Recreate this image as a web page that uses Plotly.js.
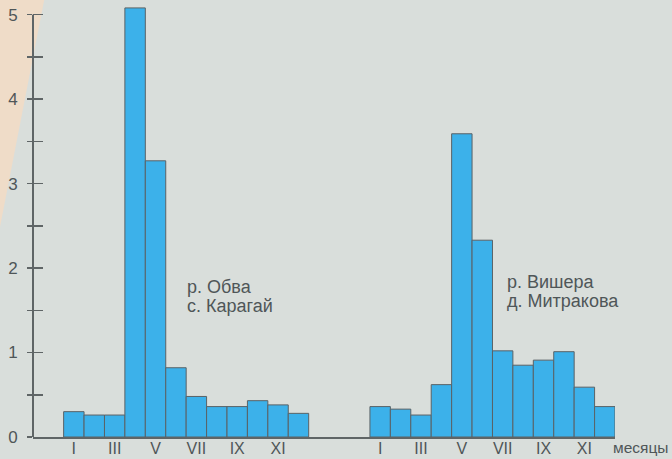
<!DOCTYPE html>
<html>
<head>
<meta charset="utf-8">
<script src="https://cdn.plot.ly/plotly-3.0.1.min.js"></script>
<style>
html,body{margin:0;padding:0;background:#d9dedb;}
#chart{width:672px;height:459px;}
</style>
</head>
<body>
<div id="chart"></div>
<script>
// Data
var months = ['I','II','III','IV','V','VI','VII','VIII','IX','X','XI','XII'];
var obva = [0.30, 0.26, 0.26, 5.08, 3.27, 0.82, 0.48, 0.36, 0.36, 0.43, 0.38, 0.28];
var vishera = [0.36, 0.33, 0.26, 0.62, 3.59, 2.33, 1.02, 0.85, 0.91, 1.01, 0.59, 0.36];
var riverLabels = [['р. Обва', 'с. Карагай'], ['р. Вишера', 'д. Митракова']];
var yTicks = [0, 1, 2, 3, 4, 5];

var offset2 = 15;
var x1 = months.map(function(m, i){ return i; });
var x2 = months.map(function(m, i){ return i + offset2; });

var barStyle = {color: '#3cb1ea', line: {color: '#5a6266', width: 1}};
var traces = [
  {type: 'bar', x: x1, y: obva, width: 1, marker: barStyle, hoverinfo: 'y', name: riverLabels[0].join(' ')},
  {type: 'bar', x: x2, y: vishera, width: 1, marker: barStyle, hoverinfo: 'y', name: riverLabels[1].join(' ')}
];

var tickvals = [], ticktext = [];
[0, offset2].forEach(function(off){
  months.forEach(function(m, i){
    if (i % 2 === 0) { tickvals.push(i + off); ticktext.push(m); }
  });
});

var txtColor = '#4f5658';
var txtFont = {family: 'Liberation Sans, Arial, sans-serif', size: 18, color: txtColor};
var annotations = [
  {x: 5.44, y: 1.78, xref: 'x', yref: 'y', text: riverLabels[0][0], showarrow: false, xanchor: 'left', yanchor: 'middle', font: txtFont},
  {x: 5.44, y: 1.55, xref: 'x', yref: 'y', text: riverLabels[0][1], showarrow: false, xanchor: 'left', yanchor: 'middle', font: txtFont},
  {x: 21.1, y: 1.84, xref: 'x', yref: 'y', text: riverLabels[1][0], showarrow: false, xanchor: 'left', yanchor: 'middle', font: txtFont},
  {x: 21.1, y: 1.61, xref: 'x', yref: 'y', text: riverLabels[1][1], showarrow: false, xanchor: 'left', yanchor: 'middle', font: txtFont},
  {x: 1.0, y: 0, xref: 'paper', yref: 'paper', text: 'месяцы', showarrow: false, xanchor: 'left', yanchor: 'middle', xshift: -4, yshift: -10,
   font: {family: 'Liberation Sans, Arial, sans-serif', size: 15.5, color: txtColor}}
];

var layout = {
  width: 672, height: 459,
  margin: {l: 33, r: 57, t: 2, b: 22},
  paper_bgcolor: '#d9dedb',
  plot_bgcolor: 'rgba(0,0,0,0)',
  showlegend: false,
  bargap: 0,
  xaxis: {
    range: [-2, 26.5], showgrid: false, zeroline: false,
    showline: true, linecolor: '#5f6566', linewidth: 2,
    tickmode: 'array', tickvals: tickvals, ticktext: ticktext,
    ticks: '', ticklabelstandoff: -4,
    tickfont: {family: 'Liberation Sans, Arial, sans-serif', size: 16, color: txtColor},
    fixedrange: true
  },
  yaxis: {
    range: [0, 5.15], showgrid: false, zeroline: false, showline: false,
    tickmode: 'array', tickvals: yTicks,
    ticks: 'outside', ticklen: 5, tickwidth: 1.5, tickcolor: '#5f6566',
    minor: {dtick: 0.5, tick0: 0, ticks: 'outside', ticklen: 5, tickwidth: 1.5, tickcolor: '#5f6566'},
    ticklabelstandoff: 6,
    tickfont: {family: 'Liberation Sans, Arial, sans-serif', size: 17, color: txtColor},
    fixedrange: true
  },
  yaxis2: {
    overlaying: 'y', matches: 'y', side: 'left', showgrid: false, zeroline: false, showline: false,
    showticklabels: false, tickmode: 'array', tickvals: yTicks,
    ticks: 'inside', ticklen: 10, tickwidth: 1.5, tickcolor: '#5f6566',
    minor: {dtick: 0.5, tick0: 0, ticks: 'inside', ticklen: 10, tickwidth: 1.5, tickcolor: '#5f6566'},
    fixedrange: true
  },
  shapes: [
    {type: 'path', xref: 'paper', yref: 'paper', layer: 'below',
     path: 'M -0.06 1.01 L 0.02 1.01 L -0.06 0.46 Z', fillcolor: '#efdcc8', line: {width: 0}},
    {type: 'line', xref: 'paper', yref: 'y', x0: 0, x1: 0, y0: 0, y1: 5,
     line: {color: '#5f6566', width: 2}}
  ],
  annotations: annotations
};

// dummy trace to activate yaxis2 ticks
traces.push({type: 'scatter', x: [null], y: [null], yaxis: 'y2', hoverinfo: 'skip', showlegend: false});

Plotly.newPlot('chart', traces, layout, {displayModeBar: false, staticPlot: true});
</script>
</body>
</html>
